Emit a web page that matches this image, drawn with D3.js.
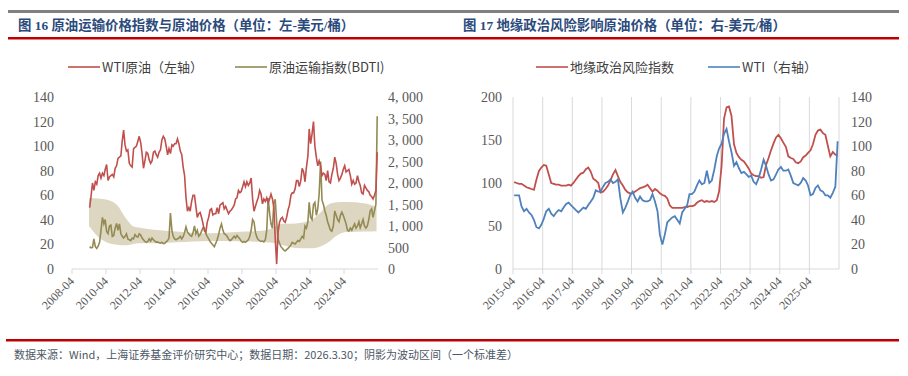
<!DOCTYPE html>
<html>
<head>
<meta charset="utf-8">
<script src="https://cdn.jsdelivr.net/npm/d3@7"></script>
<style>
  body { margin: 0; background: #fff; }
  text { font-family: "Liberation Serif", "Noto Sans CJK SC", serif; }
</style>
</head>
<body>
<div id="chart"></div>
<script>
// ---------- 图16: WTI (monthly from 2009-04) and BDTI ----------
const leftStart = "2009-04";
const wtiLeft = [
  50, 59, 70, 64, 71, 69, 76, 78, 74,
  78, 76, 81, 85, 72, 75, 76, 77, 75, 82, 84, 90,
  91, 92, 104, 113, 101, 96, 97, 86, 84, 83, 98, 99,
  100, 104, 108, 103, 94, 82, 88, 95, 94, 89, 86, 88,
  95, 96, 93, 91, 95, 97, 105, 108, 106, 100, 93, 98,
  94, 101, 100, 102, 102, 106, 102, 96, 93, 83, 76, 58,
  47, 50, 47, 55, 60, 60, 51, 42, 45, 46, 42, 37,
  31, 30, 38, 42, 48, 49, 44, 45, 45, 50, 45, 52,
  53, 54, 49, 51, 48, 45, 47, 48, 50, 52, 57, 58,
  64, 62, 63, 67, 71, 67, 71, 68, 70, 74, 57, 47,
  51, 55, 58, 64, 61, 53, 57, 55, 58, 54, 57, 61,
  57, 50, 25, 4, 30, 38, 41, 42, 39, 38, 42, 48,
  52, 60, 62, 62, 65, 72, 72, 67, 72, 82, 79, 71,
  83, 92, 114, 102, 110, 120, 100, 91, 84, 88, 84, 76,
  78, 77, 72, 80, 71, 70, 77, 82, 91, 86, 77, 72,
  74, 77, 81, 84, 79, 80, 81, 76, 69, 72, 69, 70,
  76, 71, 68, 62, 61, 68, 66, 64, 63, 60, 59, 57,
  60, 64, 95
];
const bdti = [
  520, 490, 500, 700, 520, 480, 530, 620, 900,
  1200, 1050, 1150, 870, 820, 1000, 1020, 760, 780, 950, 1060, 900,
  1050, 820, 760, 720, 760, 820, 700, 680, 660, 720, 700, 800,
  760, 740, 820, 790, 720, 680, 640, 620, 640, 700, 650, 720,
  680, 650, 620, 630, 610, 600, 620, 590, 600, 630, 660, 720,
  1300, 900, 760, 700, 680, 700, 720, 760, 700, 750, 850, 980,
  860, 820, 780, 760, 840, 1000, 820, 900, 760, 800, 880, 960,
  950, 820, 760, 700, 640, 600, 560, 520, 600, 680, 800, 950,
  1050, 900, 820, 800, 760, 700, 660, 680, 720, 760, 720, 780,
  740, 700, 650, 620, 640, 620, 650, 680, 760, 900, 1150, 1100,
  850, 740, 680, 660, 640, 650, 630, 680, 900, 1650, 1300, 1050,
  950, 1550, 1620, 1100, 700, 600, 520, 480, 440, 420, 450, 480,
  520, 560, 620, 600, 580, 620, 660, 640, 700, 760, 720, 1000,
  950, 1100, 1550, 1200, 1150, 1500, 1550, 1250, 1400, 1750, 2500, 1600,
  1500, 1350, 1250, 1100, 1000, 900, 880, 1000, 1350, 1250, 1150, 1100,
  1250, 1320, 1250, 1150, 1050, 900, 880, 950, 900, 980, 1050, 950,
  1000, 1100, 960, 1050, 1150, 1000, 950, 1000, 1150, 1350, 1400, 1200,
  1350, 1500, 3550
];
// shaded band: one standard deviation around BDTI
const bandDates = ["2009-04", "2009-10", "2010-06", "2010-12", "2011-06", "2011-12", "2012-06",
  "2013-06", "2014-06", "2015-06", "2016-06", "2017-06", "2018-06", "2019-06", "2020-01",
  "2020-08", "2021-06", "2022-04", "2022-11", "2023-05", "2023-11", "2024-06", "2025-06", "2026-03"];
const bandUpper = [1650, 1640, 1600, 1480, 1180, 980, 950, 900, 870, 840, 830, 850, 870, 890, 940,
  1050, 1060, 1120, 1300, 1500, 1550, 1560, 1530, 1450];
const bandLower = [1000, 760, 600, 565, 550, 590, 600, 600, 620, 640, 650, 650, 640, 630, 610,
  560, 490, 480, 520, 620, 780, 860, 870, 880];
const leftTicks = ["2008-04", "2010-04", "2012-04", "2014-04", "2016-04", "2018-04", "2020-04", "2022-04", "2024-04"];

// ---------- 图17: geopolitical risk index and WTI (monthly from 2015-04) ----------
const rightStart = "2015-04";
const gpr = [
  101, 100, 99, 99, 97, 95, 94, 93, 92,
  104, 114, 118, 121, 120, 110, 100, 99, 98, 98, 97, 97,
  97, 98, 97, 100, 104, 108, 111, 112, 116, 118, 113, 105,
  103, 100, 89, 90, 93, 97, 103, 110, 115, 108, 101, 97,
  92, 89, 88, 88, 90, 92, 94, 95, 96, 98, 94, 90,
  93, 91, 88, 86, 85, 82, 74, 71, 71, 71, 71, 71,
  72, 72, 73, 73, 74, 77, 79, 80, 78, 79, 78, 79,
  78, 80, 90, 120, 175, 188, 189, 178, 145, 135, 130, 127,
  125, 121, 117, 111, 109, 108, 108, 106, 107, 121, 129, 138,
  146, 153, 156, 152, 147, 142, 131, 129, 128, 124, 123, 125,
  130, 132, 135, 138, 145, 156, 161, 162, 158, 156, 143, 131,
  136, 133, 132
];
const wtiRight = [
  60, 60, 60, 51, 47, 49, 46, 44, 40,
  34, 33, 36, 41, 47, 49, 45, 43, 46, 48, 47, 50,
  53, 54, 52, 50, 48, 46, 48, 50, 49, 52, 55, 58,
  64, 63, 63, 67, 70, 71, 73, 70, 71, 73, 57, 46,
  50, 55, 60, 63, 58, 55, 59, 56, 55, 55, 56, 61,
  55, 47, 28, 20, 28, 38, 40, 42, 43, 40, 37, 46,
  49, 52, 61, 61, 63, 68, 72, 69, 70, 80, 70, 72,
  81, 92, 98, 102, 110, 114, 104, 95, 84, 87, 82, 78,
  79, 77, 75, 76, 71, 69, 74, 81, 89, 84, 77, 72,
  73, 77, 81, 83, 80, 80, 81, 76, 70, 69, 68, 70,
  74, 72, 68, 60, 61, 66, 68, 64, 63, 60, 60, 58,
  62, 67, 104
];
const rightTicks = ["2015-04", "2016-04", "2017-04", "2018-04", "2019-04", "2020-04",
  "2021-04", "2022-04", "2023-04", "2024-04", "2025-04"];

const W = 908, H = 376;
const cjk = '"Noto Sans CJK SC", sans-serif';
const parseMonth = d3.timeParse("%Y-%m");
const midMonth = (start, i) => d3.timeDay.offset(d3.timeMonth.offset(parseMonth(start), i), 14);

const svg = d3.select("#chart").append("svg")
    .attr("width", W)
    .attr("height", H);

// header and footer rules
svg.append("rect").attr("x", 8).attr("y", 10).attr("width", 891).attr("height", 3).attr("fill", "#808080");
svg.append("rect").attr("x", 8).attr("y", 37).attr("width", 891).attr("height", 2.5).attr("fill", "#C00000");
svg.append("rect").attr("x", 6).attr("y", 339).attr("width", 893).attr("height", 2.5).attr("fill", "#C00000");

function title(x, str) {
  svg.append("text")
      .attr("x", x).attr("y", 30)
      .style("font-size", "13.4px")
      .style("font-weight", "bold")
      .style("fill", "#2B4A7C")
      .style("font-family", '"Liberation Serif", ' + cjk)
      .text(str);
}
title(18, "图 16 原油运输价格指数与原油价格（单位：左-美元/桶）");
title(463, "图 17 地缘政治风险影响原油价格（单位：右-美元/桶）");

svg.append("text")
    .attr("x", 14).attr("y", 359)
    .style("font-size", "11px")
    .style("fill", "#4d5766")
    .style("font-family", cjk)
    .text("数据来源：Wind，上海证券基金评价研究中心；数据日期：2026.3.30；阴影为波动区间（一个标准差）");

function legendItem(x, color, label) {
  svg.append("line")
      .attr("x1", x).attr("x2", x + 32)
      .attr("y1", 67).attr("y2", 67)
      .attr("stroke", color).attr("stroke-width", 1.6);
  svg.append("text")
      .attr("x", x + 34).attr("y", 72)
      .style("font-size", "13px")
      .style("fill", "#404040")
      .style("font-family", cjk)
      .text(label);
}
legendItem(68, "#C0504D", "WTI原油（左轴）");
legendItem(235, "#948A54", "原油运输指数(BDTI)");
legendItem(536, "#C0504D", "地缘政治风险指数");
legendItem(708, "#4F81BD", "WTI（右轴）");

const plotTop = 97, plotBottom = 269;

function xAxis(x, ticks, x0, x1, grid) {
  const g = svg.append("g");
  if (grid) {
    g.selectAll(".grid")
      .data(grid)
      .enter().append("line")
      .attr("x1", d => x(d)).attr("x2", d => x(d))
      .attr("y1", plotTop).attr("y2", plotBottom)
      .attr("stroke", "#d9d9d9").attr("stroke-width", 1);
  }
  g.append("line")
      .attr("x1", x0).attr("x2", x1)
      .attr("y1", plotBottom).attr("y2", plotBottom)
      .attr("stroke", "#d9d9d9").attr("stroke-width", 1);
  const t = g.selectAll(".tick")
      .data(ticks)
      .enter().append("g")
      .attr("transform", d => "translate(" + x(parseMonth(d)) + "," + plotBottom + ")");
  t.append("line").attr("y1", 0).attr("y2", 5).attr("stroke", "#d9d9d9");
  t.append("text")
      .attr("transform", "translate(3,13) rotate(-45)")
      .attr("text-anchor", "end")
      .style("font-size", "12px")
      .style("fill", "#595959")
      .text(d => d);
}

function yLabels(y, values, xPos, anchor, fmt) {
  svg.append("g").selectAll("text")
    .data(values)
    .enter().append("text")
    .attr("x", xPos)
    .attr("y", d => y(d) + 5)
    .attr("text-anchor", anchor)
    .style("font-size", "14px")
    .style("fill", "#595959")
    .text(fmt);
}

// ---------- left panel ----------
{
  const x = d3.scaleTime()
      .domain([parseMonth("2008-04"), parseMonth("2026-04")])
      .range([72, 378]);
  const yL = d3.scaleLinear().domain([0, 140]).range([plotBottom, plotTop]);
  const yR = d3.scaleLinear().domain([0, 4000]).range([plotBottom, plotTop]);

  const band = bandDates.map((d, i) => ({ date: parseMonth(d), hi: bandUpper[i], lo: bandLower[i] }));
  svg.append("path")
      .datum(band)
      .attr("fill", "#DDD7C2")
      .attr("d", d3.area()
        .curve(d3.curveMonotoneX)
        .x(d => x(d.date))
        .y0(d => yR(d.lo))
        .y1(d => yR(d.hi)));

  xAxis(x, leftTicks, 72, 378);

  const wti = wtiLeft.map((v, i) => ({ date: midMonth(leftStart, i), v }));
  const bd = bdti.map((v, i) => ({ date: midMonth(leftStart, i), v }));

  svg.append("path")
      .datum(bd)
      .attr("fill", "none")
      .attr("stroke", "#948A54")
      .attr("stroke-width", 1.6)
      .attr("d", d3.line().x(d => x(d.date)).y(d => yR(d.v)));

  svg.append("path")
      .datum(wti)
      .attr("fill", "none")
      .attr("stroke", "#C0504D")
      .attr("stroke-width", 1.6)
      .attr("d", d3.line().x(d => x(d.date)).y(d => yL(d.v)));

  yLabels(yL, d3.range(0, 141, 20), 54, "end", d => d);
  yLabels(yR, d3.range(0, 4001, 500), 388, "start", d => d3.format(",")(d).replace(",", ", "));
}

// ---------- right panel ----------
{
  const x = d3.scaleTime()
      .domain([parseMonth("2015-04"), parseMonth("2026-04")])
      .range([513, 839]);
  const yL = d3.scaleLinear().domain([0, 200]).range([plotBottom, plotTop]);
  const yR = d3.scaleLinear().domain([0, 140]).range([plotBottom, plotTop]);

  const gridYears = d3.timeYear.range(new Date(2015, 0, 1), new Date(2027, 0, 1))
      .map(d => d3.timeMonth.offset(d, 3));
  xAxis(x, rightTicks, 513, 839, gridYears);

  const g1 = gpr.map((v, i) => ({ date: midMonth(rightStart, i), v }));
  const g2 = wtiRight.map((v, i) => ({ date: midMonth(rightStart, i), v }));

  svg.append("path")
      .datum(g1)
      .attr("fill", "none")
      .attr("stroke", "#C0504D")
      .attr("stroke-width", 1.8)
      .attr("d", d3.line().x(d => x(d.date)).y(d => yL(d.v)));

  svg.append("path")
      .datum(g2)
      .attr("fill", "none")
      .attr("stroke", "#4F81BD")
      .attr("stroke-width", 1.8)
      .attr("d", d3.line().x(d => x(d.date)).y(d => yR(d.v)));

  yLabels(yL, d3.range(0, 201, 50), 502, "end", d => d);
  yLabels(yR, d3.range(0, 141, 20), 851, "start", d => d);
}
</script>
</body>
</html>
